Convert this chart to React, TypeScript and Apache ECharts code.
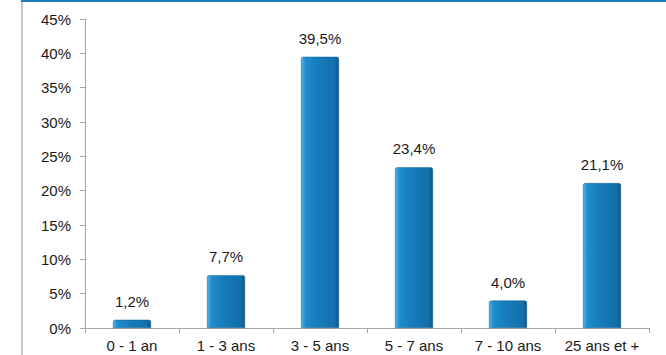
import React, { useEffect, useRef } from "react";
import * as echarts from "echarts";

const categories = ["0 - 1 an", "1 - 3 ans", "3 - 5 ans", "5 - 7 ans", "7 - 10 ans", "25 ans et +"];
const values = [1.2, 7.7, 39.5, 23.4, 4.0, 21.1];

export default function App() {
  const ref = useRef<HTMLDivElement>(null);
  useEffect(() => {
    document.body.style.margin = "0";
    const chart = echarts.init(ref.current!, null, { renderer: "svg" });
    const font = "Liberation Sans, Arial, sans-serif";
    chart.setOption({
      animation: false,
      backgroundColor: "#ffffff",
      grid: { left: 85, right: 17, top: 19, bottom: 27 },
      graphic: [
        { type: "line", shape: { x1: 22, y1: 0, x2: 22, y2: 355 }, style: { stroke: "#c8c8c8", lineWidth: 2 } },
        { type: "line", shape: { x1: 21, y1: 1, x2: 666, y2: 1 }, style: { stroke: "#1b7dbd", lineWidth: 2 } },
      ],
      xAxis: {
        type: "category",
        data: categories,
        axisLine: { lineStyle: { color: "#a6a6a6", width: 1 } },
        axisTick: { show: true, alignWithLabel: false, length: 5, lineStyle: { color: "#a6a6a6" } },
        axisLabel: { color: "#1a1a1a", fontSize: 15, fontFamily: font, margin: 10, interval: 0, hideOverlap: false },
      },
      yAxis: {
        type: "value",
        min: 0,
        max: 45,
        interval: 5,
        axisLine: { show: true, lineStyle: { color: "#a6a6a6", width: 1 } },
        axisTick: { show: true, length: 5, lineStyle: { color: "#a6a6a6" } },
        splitLine: { show: false },
        axisLabel: { color: "#1a1a1a", fontSize: 15, fontFamily: font, margin: 14, formatter: (v: number) => v + "%" },
      },
      series: [
        {
          type: "bar",
          data: values,
          barWidth: 38,
          itemStyle: {
            color: new echarts.graphic.LinearGradient(0, 0, 1, 0, [
              { offset: 0, color: "#4fb3e6" },
              { offset: 0.12, color: "#1f8ccc" },
              { offset: 0.5, color: "#1679b8" },
              { offset: 0.88, color: "#1470ab" },
              { offset: 1, color: "#0d5686" },
            ]),
            borderColor: "#0f5f94",
            borderWidth: 0.5,
            borderRadius: [2, 2, 0, 0],
          },
          label: {
            show: true,
            position: "top",
            distance: 11,
            color: "#1a1a1a",
            fontSize: 15,
            fontFamily: font,
            formatter: (p: any) => p.value.toFixed(1).replace(".", ",") + "%",
          },
        },
      ],
    });
    return () => chart.dispose();
  }, []);
  return <div ref={ref} style={{ width: 666, height: 355 }} />;
}
